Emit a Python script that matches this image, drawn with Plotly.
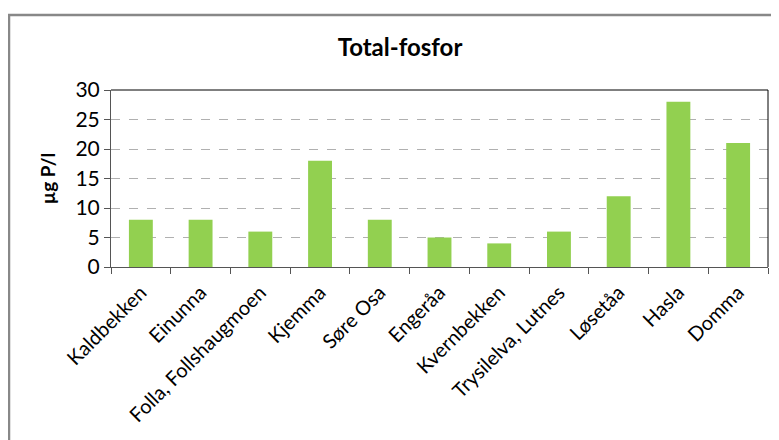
import plotly.graph_objects as go

categories = ["Kaldbekken", "Einunna", "Folla, Follshaugmoen", "Kjemma", "Søre Osa",
              "Engeråa", "Kvernbekken", "Trysilelva, Lutnes", "Løsetåa", "Hasla", "Domma"]
values = [8, 8, 6, 18, 8, 5, 4, 6, 12, 28, 21]
y_ticks = [0, 5, 10, 15, 20, 25, 30]

FONT = "Lato"
OFF = 8  # page body margin offset

W, H = 779 - OFF, 440 - OFF
L, R, T, B = 111 - OFF, 11, 90 - OFF, 173
pw = W - L - R
ph = H - T - B

fig = go.Figure()
fig.add_trace(go.Bar(x=categories, y=values, marker=dict(color="#92D050", line=dict(width=0))))

fig.update_layout(
    width=W, height=H,
    margin=dict(l=L, r=R, t=T, b=B, pad=0),
    paper_bgcolor="white", plot_bgcolor="white",
    bargap=0.6,
    showlegend=False,
    font=dict(family=FONT, color="#000000"),
    title=dict(text="<b>Total-fosfor</b>", x=(400 - OFF) / W, xanchor="center",
               y=1 - (48 - OFF) / H, yanchor="middle", font=dict(size=24, family=FONT)),
)
fig.update_xaxes(
    type="category", tickangle=-45, tickson="boundaries", ticks="outside", ticklen=6,
    tickcolor="#555555", showline=True, linecolor="#555555", linewidth=1, mirror=False,
    tickfont=dict(size=20, family=FONT), showgrid=False, ticklabelstandoff=5,
)
fig.update_yaxes(
    range=[0, 30], tickvals=y_ticks, ticks="outside", ticklen=6, tickcolor="#555555",
    showline=True, linecolor="#555555", linewidth=1,
    showgrid=True, gridcolor="#b0b0b0", griddash="dash", gridwidth=1,
    tickfont=dict(size=21, family=FONT), zeroline=False,
    title=dict(text="<b>µg P/l</b>", font=dict(size=19, family=FONT), standoff=14),
)
# plot area top and right border
fig.add_shape(type="line", xref="paper", yref="paper", x0=0, x1=1, y0=1, y1=1,
              line=dict(color="#000000", width=1))
fig.add_shape(type="line", xref="paper", yref="paper", x0=1, x1=1, y0=0, y1=1,
              line=dict(color="#000000", width=1))
# outer chart frame (gray)
fig.add_shape(type="rect", xref="paper", yref="paper",
              x0=(9 - OFF - L) / pw, x1=(W + 20 - L) / pw,
              y0=-(B + 20) / ph, y1=1 + (T - (15 - OFF)) / ph,
              line=dict(color="#888888", width=2.5), fillcolor="rgba(0,0,0,0)", layer="below")

fig.write_html("out.html")
